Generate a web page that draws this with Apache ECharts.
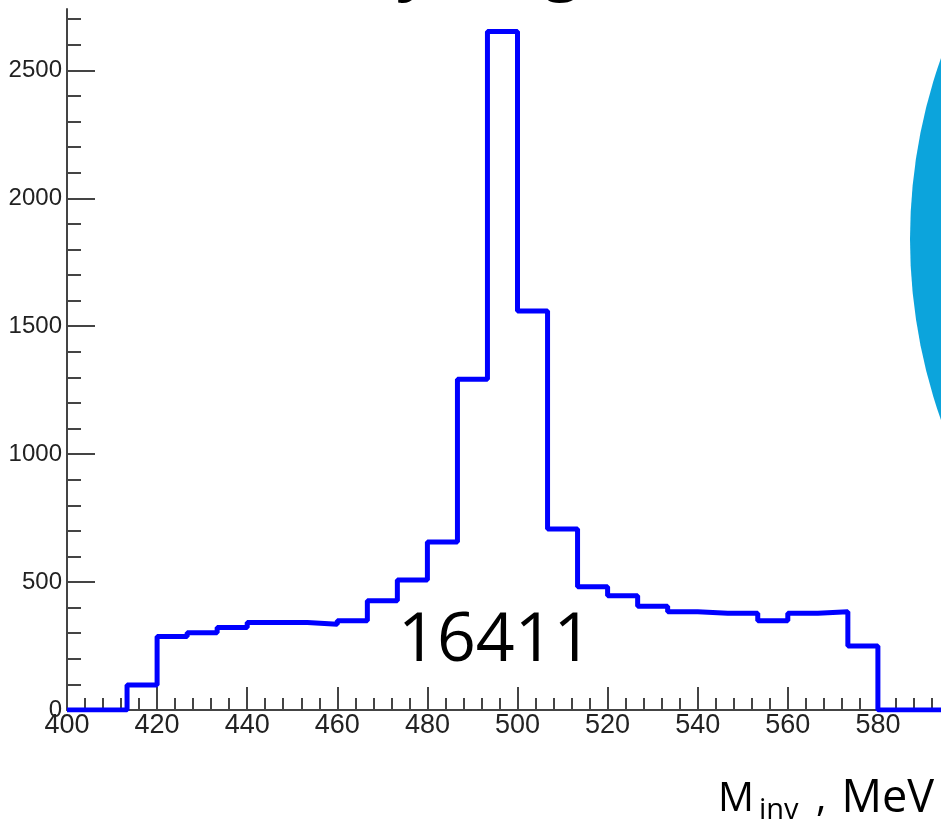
<!DOCTYPE html>
<html>
<head>
    <meta charset="utf-8">
    <title>M_inv histogram</title>
    <script type="text/javascript" src="https://cdn.jsdelivr.net/npm/echarts@6.0.0/dist/echarts.min.js"></script>
    <style>
        html, body { margin: 0; padding: 0; background: #fff; }
    </style>
</head>
<body>
    <div id="main" style="width: 941px;height:819px;"></div>

    <script type="text/javascript">
        // lower bin edges (MeV), 30 bins of 6.67 MeV from 400 to 600
        var binEdges = [400, 406.67, 413.33, 420, 426.67, 433.33, 440, 446.67, 453.33, 460,
                        466.67, 473.33, 480, 486.67, 493.33, 500, 506.67, 513.33, 520, 526.67,
                        533.33, 540, 546.67, 553.33, 560, 566.67, 573.33, 580, 586.67, 593.33];
        var counts = [0, 0, 98, 287, 302, 322, 342, 342, 335, 349,
                      427, 508, 657, 1293, 2652, 1560, 707, 482, 447, 406,
                      384, 378, 378, 349, 378, 384, 250, 0, 0, 0];
        var xMax = 600;
        var yMax = 2740;
        var majorY = [0, 500, 1000, 1500, 2000, 2500];
        var minorY = [100, 200, 300, 400, 600, 700, 800, 900, 1100, 1200, 1300, 1400,
                      1600, 1700, 1800, 1900, 2100, 2200, 2300, 2400, 2600, 2700];
        var entries = '16411';

        var steps = [];
        for (var i = 0; i < binEdges.length; i++) {
            steps.push([binEdges[i], counts[i]]);
        }
        steps.push([xMax, counts[counts.length - 1]]);

        var myChart = echarts.init(document.getElementById('main'));

        var axisGrey = '#444';
        var plain = function (v) { return String(v); };
        var option = {
            backgroundColor: '#fff',
            animation: false,
            grid: { left: 67, right: -27, top: 9, bottom: 109, outerBoundsMode: 'none', containLabel: false },
            xAxis: {
                type: 'value',
                min: 400,
                max: xMax,
                interval: 20,
                axisLine: { onZero: false, lineStyle: { color: axisGrey, width: 2 } },
                axisTick: { inside: true, length: 23, lineStyle: { color: axisGrey, width: 2 } },
                minorTick: { show: true, splitNumber: 5, length: 12, lineStyle: { color: axisGrey, width: 2 } },
                splitLine: { show: false },
                axisLabel: {
                    margin: 2,
                    color: '#222',
                    fontSize: 27,
                    formatter: plain,
                    fontFamily: 'Liberation Sans Narrow, Liberation Sans, sans-serif'
                }
            },
            yAxis: [
                {
                    type: 'value',
                    min: 0,
                    max: yMax,
                    axisLine: { show: true, lineStyle: { color: axisGrey, width: 2 } },
                    axisTick: { show: true, inside: true, length: 28, customValues: majorY,
                                lineStyle: { color: axisGrey, width: 2 } },
                    splitLine: { show: false },
                    axisLabel: {
                        customValues: majorY,
                        formatter: plain,
                        margin: 5,
                        color: '#222',
                        fontSize: 24,
                        fontFamily: 'Liberation Sans, Arial, sans-serif'
                    }
                },
                {
                    type: 'value',
                    min: 0,
                    max: yMax,
                    position: 'left',
                    axisLine: { show: false },
                    axisTick: { show: true, inside: true, length: 14, customValues: minorY,
                                lineStyle: { color: axisGrey, width: 2 } },
                    splitLine: { show: false },
                    axisLabel: { show: false }
                }
            ],
            series: [{
                name: 'counts',
                type: 'line',
                step: 'end',
                data: steps,
                showSymbol: false,
                lineStyle: { color: '#0000ff', width: 5 },
                z: 5
            }],
            graphic: [
                {
                    type: 'circle',
                    shape: { cx: 1454, cy: 239, r: 544 },
                    style: { fill: '#0ca4dc' },
                    z: 100
                },
                {
                    type: 'text',
                    left: 396, top: -63,
                    style: { text: 'y', font: 'bold 64px "Open Sans", sans-serif', fill: '#000' }
                },
                {
                    type: 'text',
                    left: 544, top: -63,
                    style: { text: 'g', font: 'bold 64px "Open Sans", sans-serif', fill: '#000' }
                },
                {
                    type: 'text',
                    left: 398, top: 608,
                    style: { text: entries, font: '68px "Open Sans", sans-serif', fill: '#000' },
                    z: 50
                },
                {
                    type: 'text',
                    left: 718, top: 780,
                    style: { text: 'M', font: '40px "Open Sans", sans-serif', fill: '#000' }
                },
                {
                    type: 'text',
                    left: 759, top: 796,
                    style: { text: 'inv', font: '29px "Open Sans", sans-serif', fill: '#000' }
                },
                {
                    type: 'text',
                    left: 816, top: 780,
                    style: { text: ',', font: '40px "Open Sans", sans-serif', fill: '#000' }
                },
                {
                    type: 'text',
                    right: 7, top: 777,
                    style: { text: 'MeV', font: '45px "Open Sans", sans-serif', fill: '#000' }
                }
            ]
        };

        myChart.setOption(option);
    </script>
</body>
</html>
